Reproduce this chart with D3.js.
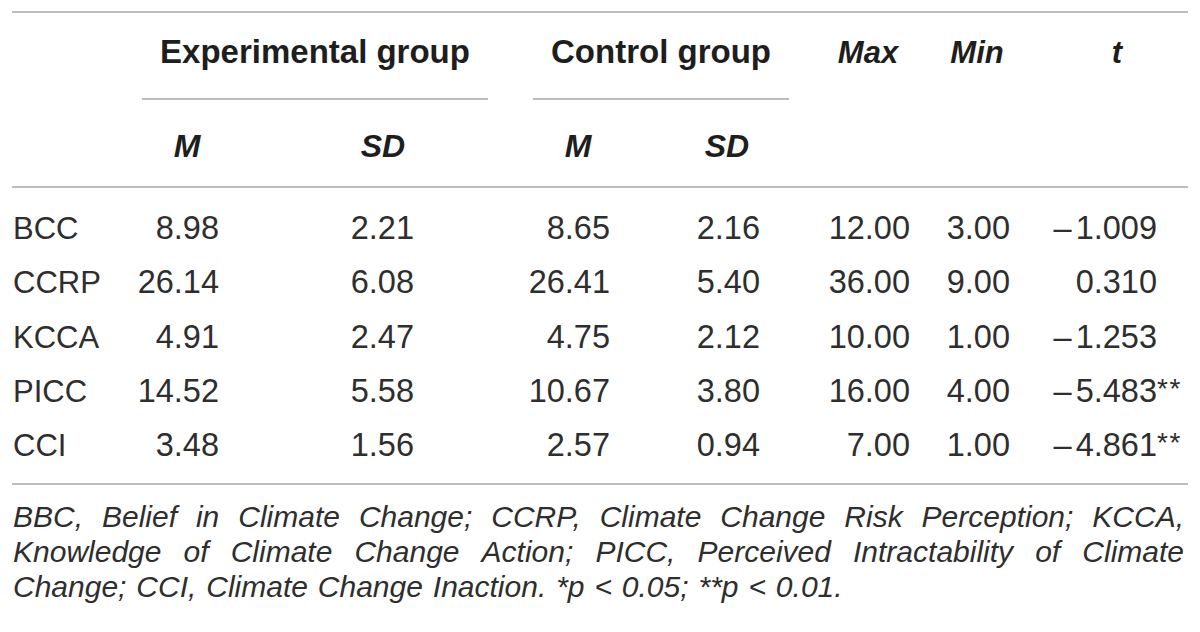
<!DOCTYPE html>
<html>
<head>
<meta charset="utf-8">
<script src="https://cdn.jsdelivr.net/npm/d3@7"></script>
<style>
  html, body { margin: 0; padding: 0; background: #fff; }
  svg { display: block; font-family: "Liberation Sans", Arial, sans-serif; }
</style>
</head>
<body>
<div id="table"></div>
<script>
// table values
const rows = ["BCC", "CCRP", "KCCA", "PICC", "CCI"];
const expM = [8.98, 26.14, 4.91, 14.52, 3.48];
const expSD = [2.21, 6.08, 2.47, 5.58, 1.56];
const ctrlM = [8.65, 26.41, 4.75, 10.67, 2.57];
const ctrlSD = [2.16, 5.40, 2.12, 3.80, 0.94];
const maxV = [12.00, 36.00, 10.00, 16.00, 7.00];
const minV = [3.00, 9.00, 1.00, 4.00, 1.00];
const tV = [-1.009, 0.310, -1.253, -5.483, -4.861];
const sig = ["", "", "", "**", "**"];

const groupHeads = ["Experimental group", "Control group"];
const subHeads = ["M", "SD", "M", "SD"];
const noteLines = [
  "BBC, Belief in Climate Change; CCRP, Climate Change Risk Perception; KCCA,",
  "Knowledge of Climate Change Action; PICC, Perceived Intractability of Climate",
  "Change; CCI, Climate Change Inaction. *p < 0.05; **p < 0.01."
];

const width = 1200, height = 632;
const ink = "#2e2e2e", rule = "#bdbdbd";
const cellSize = 32.5;

const svg = d3.select("#table").append("svg")
  .attr("width", width).attr("height", height);

const fmt = p => d3.format("." + p + "f");

// columns: right edge of numbers and header centre
const cols = [
  { key: "expM", vals: expM, right: 219, head: 187, f: fmt(2) },
  { key: "expSD", vals: expSD, right: 414, head: 383, f: fmt(2) },
  { key: "ctrlM", vals: ctrlM, right: 610, head: 578, f: fmt(2) },
  { key: "ctrlSD", vals: ctrlSD, right: 760, head: 727, f: fmt(2) },
  { key: "max", vals: maxV, right: 910, head: 868, f: fmt(2) },
  { key: "min", vals: minV, right: 1010, head: 977, f: fmt(2) },
  { key: "t", vals: tV, right: 1157, head: 1117, f: fmt(3) }
];

const y = d3.scaleBand().domain(rows).range([200, 472]);
const base = r => y(r) + y.bandwidth() / 2 + 11.5;

// rules
const hline = (x1, x2, yy) => svg.append("line")
  .attr("x1", x1).attr("x2", x2).attr("y1", yy).attr("y2", yy)
  .attr("stroke", rule).attr("stroke-width", 2);
hline(12, 1188, 12);
hline(142, 488, 99);
hline(533, 789, 99);
hline(12, 1188, 187);
hline(12, 1188, 484);

// header row 1
const head1 = [
  { t: groupHeads[0], x: 315, it: false, s: 33 },
  { t: groupHeads[1], x: 661, it: false, s: 33 },
  { t: "Max", x: 868, it: true, s: 31 },
  { t: "Min", x: 977, it: true, s: 31 },
  { t: "t", x: 1117, it: true, s: 31 }
];
svg.selectAll(".h1").data(head1).enter().append("text")
  .attr("x", d => d.x).attr("y", 63)
  .attr("text-anchor", "middle")
  .attr("font-size", d => d.s).attr("font-weight", "bold")
  .attr("font-style", d => d.it ? "italic" : "normal")
  .attr("fill", "#1e1e1e")
  .text(d => d.t);

// header row 2
svg.selectAll(".h2").data(subHeads).enter().append("text")
  .attr("x", (d, i) => cols[i].head).attr("y", 157)
  .attr("text-anchor", "middle")
  .attr("font-size", 32).attr("font-weight", "bold").attr("font-style", "italic")
  .attr("fill", "#1e1e1e")
  .text(d => d);

// row labels
svg.selectAll(".lab").data(rows).enter().append("text")
  .attr("x", 13).attr("y", d => base(d))
  .attr("font-size", 31).attr("fill", ink)
  .text(d => d);

// cells (negatives get a typeset en dash, slightly stretched)
cols.forEach(c => {
  svg.selectAll(".c-" + c.key).data(c.vals).enter().append("text")
    .attr("x", c.right).attr("y", (d, i) => base(rows[i]))
    .attr("text-anchor", "end")
    .attr("font-size", cellSize).attr("fill", ink)
    .each(function (d) {
      const t = d3.select(this);
      if (d < 0) t.append("tspan").attr("letter-spacing", 4).text("\u2013");
      t.append("tspan").text(c.f(Math.abs(d)));
    });
});

// significance stars after t
svg.selectAll(".sig").data(sig).enter().append("text")
  .attr("x", 1157).attr("y", (d, i) => base(rows[i]) - 4)
  .attr("font-size", 28).attr("fill", ink)
  .attr("letter-spacing", 1.5)
  .text(d => d);

// justified italic note
const noteX0 = 13, noteX1 = 1184, noteSize = 30;
noteLines.forEach((line, li) => {
  const words = line.split(" ");
  const g = svg.append("g");
  const ty = 527 + li * 35;
  const ws = words.map(w => g.append("text")
    .attr("y", ty).attr("font-size", noteSize).attr("font-style", "italic")
    .attr("fill", ink).text(w));
  const lens = ws.map(t => t.node().getComputedTextLength());
  const total = d3.sum(lens);
  const last = li === noteLines.length - 1;
  const gap = last ? noteSize * 0.33 : (noteX1 - noteX0 - total) / (words.length - 1);
  let x = noteX0;
  ws.forEach((t, i) => { t.attr("x", x); x += lens[i] + gap; });
});
</script>
</body>
</html>
